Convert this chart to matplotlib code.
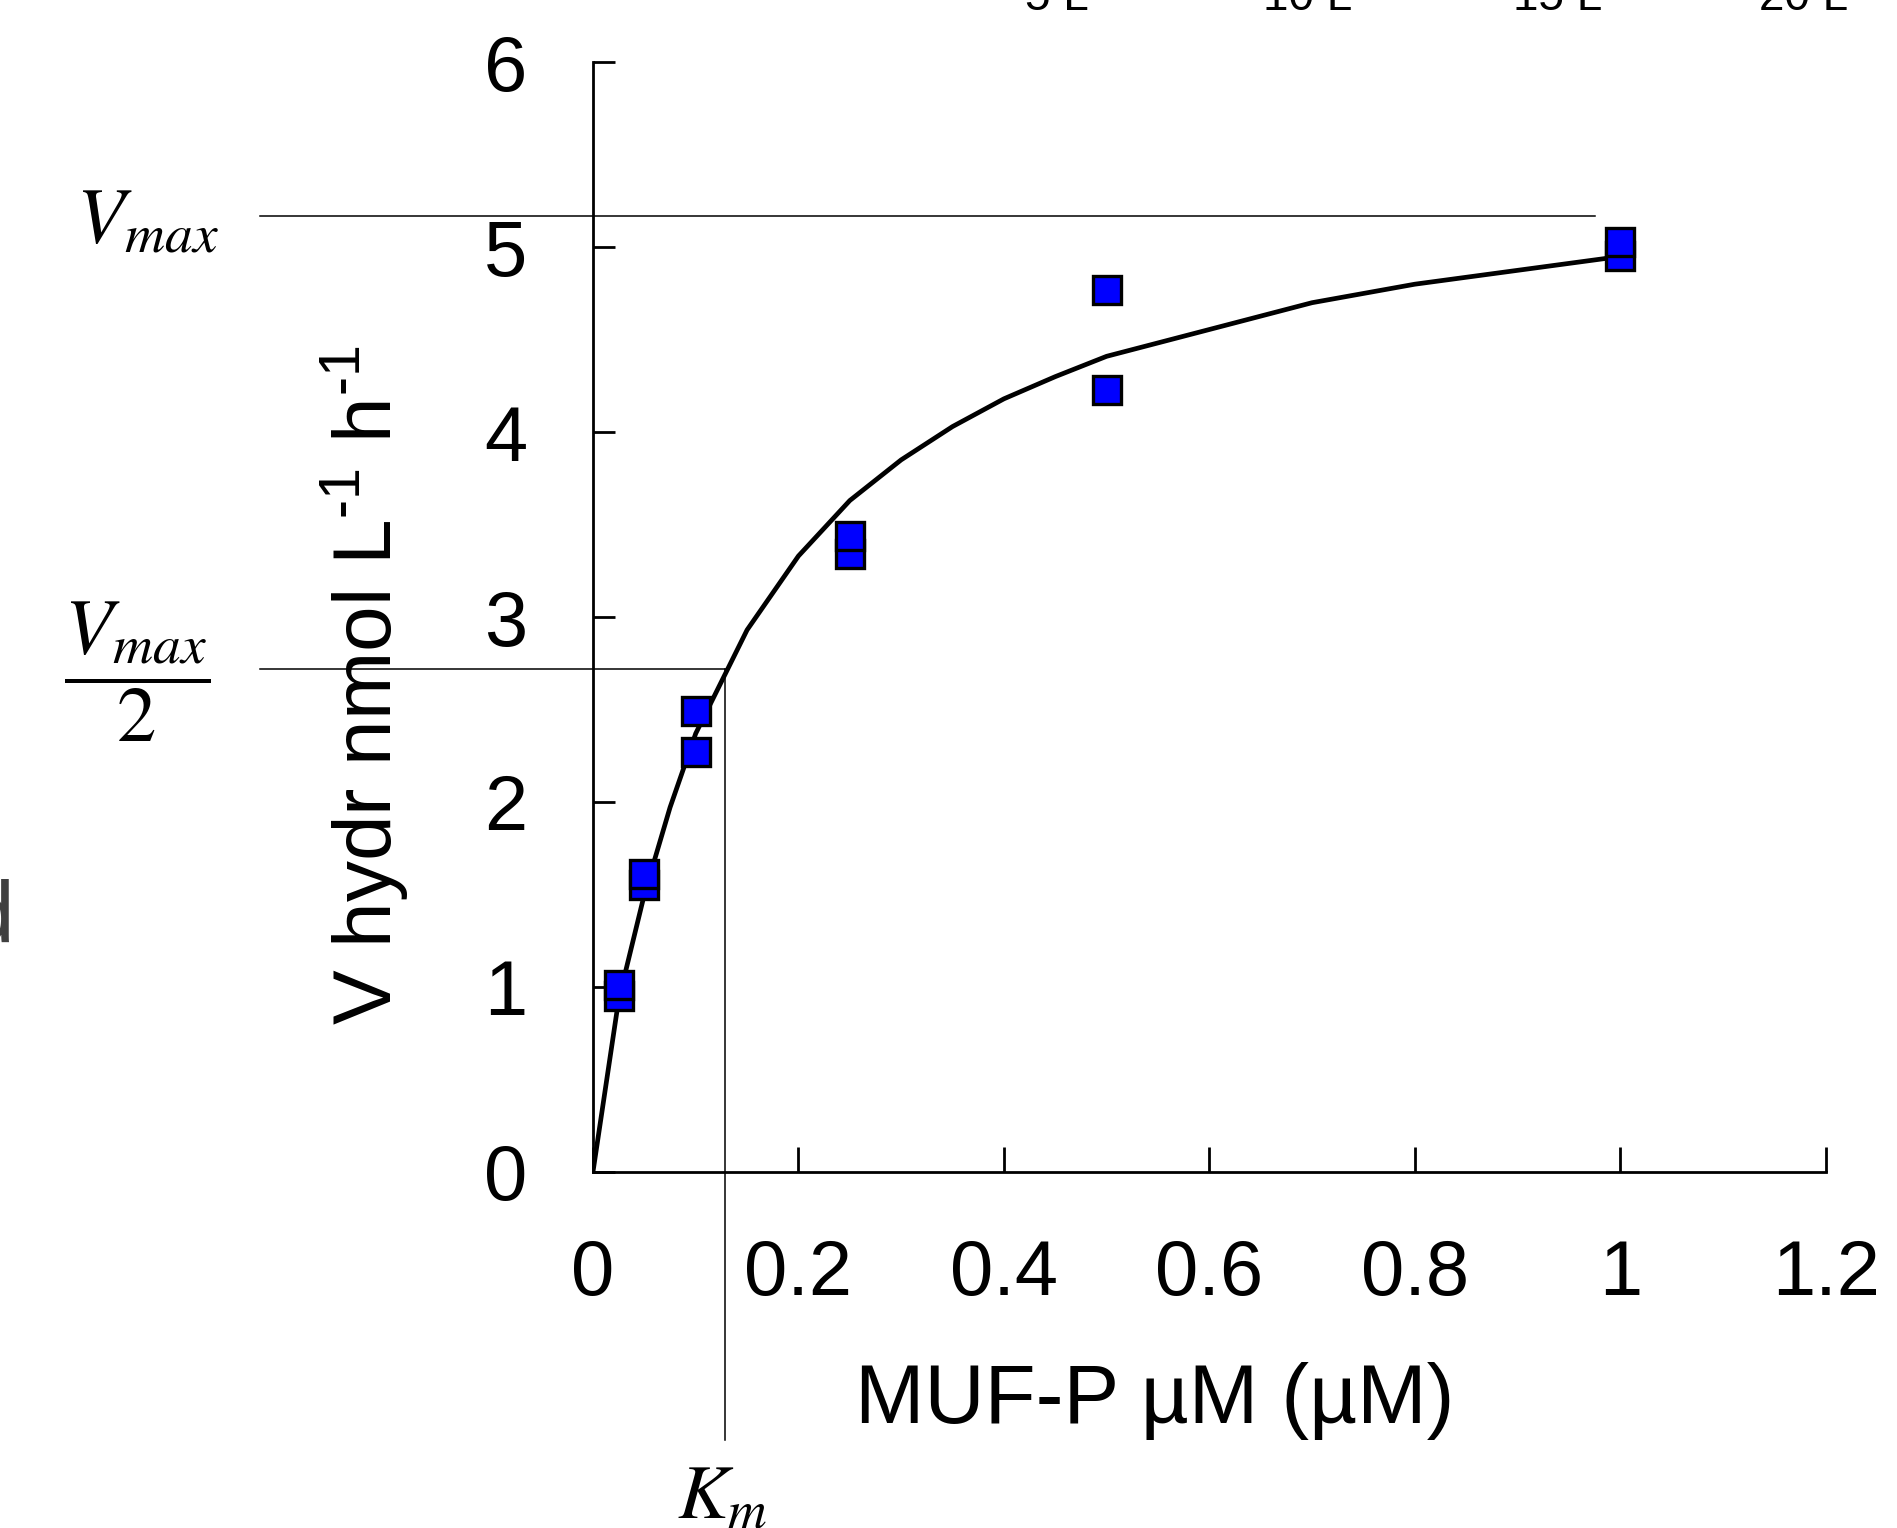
import matplotlib
matplotlib.use('Agg')
import matplotlib.pyplot as plt

plt.rcParams['font.family'] = ['Liberation Sans', 'DejaVu Sans']

# ---- data ----
substrate_curve = [0, 0.025, 0.05, 0.075, 0.1, 0.15, 0.2, 0.25, 0.3, 0.35,
                   0.4, 0.45, 0.5, 0.7, 0.8, 1.0]
v_curve = [0, 0.93, 1.50, 1.97, 2.37, 2.93, 3.33, 3.63, 3.85, 4.03,
           4.18, 4.30, 4.41, 4.70, 4.80, 4.95]
substrate_obs = [0.025, 0.05, 0.1, 0.25, 0.5, 1.0]
v_rep_low = [0.95, 1.55, 2.27, 3.34, 4.23, 4.95]
v_rep_high = [1.01, 1.61, 2.49, 3.44, 4.77, 5.03]

vmax_guide = 5.17
half_vmax_guide = 2.72
km_guide = 0.1285
guide_left = -0.324
guide_right = 0.975
km_guide_bottom = -1.45

x_ticks = [0, 0.2, 0.4, 0.6, 0.8, 1.0, 1.2]
x_ticklabels = ['0', '0.2', '0.4', '0.6', '0.8', '1', '1.2']
y_ticks = [0, 1, 2, 3, 4, 5, 6]
y_ticklabels = ['0', '1', '2', '3', '4', '5', '6']
top_fragments = ['5 L', '10 L', '15 L', '20 L']
top_fragment_x = [0.557, 0.6895, 0.821, 0.951]

# ---- figure ----
fig = plt.figure(figsize=(18.97, 15.28), dpi=100)
ax = fig.add_axes([0.3126, 0.2332, 0.6498, 0.7260])

ax.plot(substrate_curve, v_curve, color='black', lw=3.4, zorder=3,
        solid_joinstyle='miter')
ax.plot(substrate_obs, v_rep_low, ls='none', marker='s', ms=19.5,
        mfc='#0000FF', mec='black', mew=2.4, zorder=4)
ax.plot(substrate_obs, v_rep_high, ls='none', marker='s', ms=19.5,
        mfc='#0000FF', mec='black', mew=2.4, zorder=5)

# guide lines (extend outside the axes)
ax.plot([guide_left, guide_right], [vmax_guide, vmax_guide], color='black',
        lw=1.1, clip_on=False, zorder=2)
ax.plot([guide_left, km_guide], [half_vmax_guide, half_vmax_guide],
        color='black', lw=1.1, clip_on=False, zorder=2)
ax.plot([km_guide, km_guide], [half_vmax_guide, km_guide_bottom],
        color='black', lw=1.1, clip_on=False, zorder=2)

ax.set_xlim(0, 1.2)
ax.set_ylim(0, 6)
ax.set_xticks(x_ticks)
ax.set_xticklabels(x_ticklabels)
ax.set_yticks(y_ticks)
ax.set_yticklabels(y_ticklabels)

for s in ['top', 'right']:
    ax.spines[s].set_visible(False)
for s in ['left', 'bottom']:
    ax.spines[s].set_linewidth(2)

ax.tick_params(axis='x', direction='in', length=18, width=2, pad=48,
               labelsize=56)
ax.tick_params(axis='y', direction='in', length=16, width=2, pad=47,
               labelsize=56)

ax.set_xlabel('MUF-P µM (µM)', fontsize=60)
ax.xaxis.set_label_coords(0.456, -0.172)
ax.set_ylabel('V hydr nmol L$^{\\mathregular{\u20101}}$ h$^{\\mathregular{\u20101}}$',
              fontsize=59)
ax.yaxis.set_label_coords(-0.148, 0.438)

# math annotations
fig.text(0.0775, 0.8416, r'$V_{max}$', fontsize=57, math_fontfamily='stix',
         ha='center', va='baseline')
fig.text(0.0725, 1 - 672 / 1528, r'$\dfrac{V_{max}}{2}$', fontsize=57,
         math_fontfamily='stix', ha='center', va='center')
fig.text(0.381, 0.0065, r'$K_m$', fontsize=55, math_fontfamily='stix',
         ha='center', va='baseline')

# clipped fragments of neighbouring content
for lbl, xf in zip(top_fragments, top_fragment_x):
    fig.text(xf, 1 - 9.5 / 1528, lbl, fontsize=33, ha='center',
             va='baseline')
fig.text(0.0074, 0.3835, 'd', fontsize=63, color='#404040', ha='right',
         va='baseline')

fig.savefig('out.png', dpi=100)
